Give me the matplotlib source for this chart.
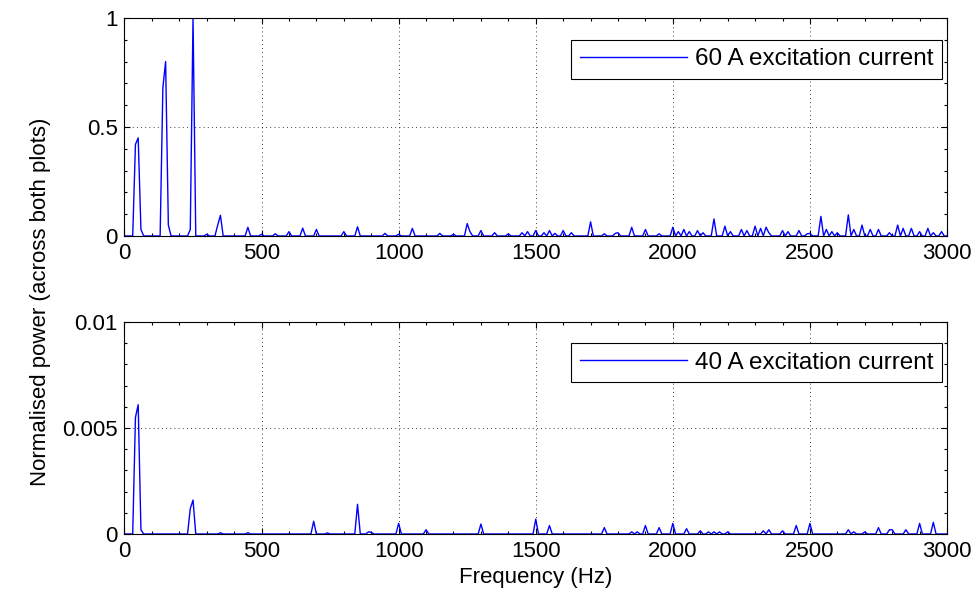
import numpy as np
import matplotlib
matplotlib.use("Agg")
import matplotlib.pyplot as plt
from matplotlib.ticker import MultipleLocator, FuncFormatter

plt.rcParams['font.family'] = ['Liberation Sans', 'DejaVu Sans']

# Frequency grid of the spectra (Hz)
freq_step = 10
freq_max = 3000

# Spectral lines, 60 A excitation (frequency in Hz, normalised power)
f60 = [40, 50, 60, 140, 150, 160, 240, 250, 300, 340, 350, 450, 500, 550, 600,
       650, 700, 800, 850, 950, 1000, 1050, 1150, 1200, 1250, 1260, 1300, 1350,
       1400, 1450, 1470, 1500, 1530, 1550, 1570, 1600, 1630, 1700, 1750, 1790,
       1800, 1850, 1900, 1950, 2000, 2020, 2040, 2060, 2090, 2110, 2150, 2190,
       2210, 2250, 2270, 2300, 2320, 2340, 2350, 2400, 2420, 2460, 2490, 2500,
       2540, 2560, 2580, 2600, 2640, 2660, 2690, 2720, 2750, 2790, 2820, 2840,
       2870, 2900, 2930, 2950, 2980]
p60 = [0.42, 0.45, 0.03, 0.68, 0.80, 0.05, 0.03, 1.00, 0.008, 0.05, 0.095,
       0.04, 0.008, 0.01, 0.02, 0.036, 0.03, 0.02, 0.042, 0.012, 0.008, 0.035,
       0.012, 0.008, 0.057, 0.02, 0.025, 0.015, 0.01, 0.015, 0.02, 0.025, 0.015,
       0.025, 0.012, 0.025, 0.015, 0.065, 0.01, 0.012, 0.015, 0.04, 0.03, 0.01,
       0.04, 0.02, 0.03, 0.02, 0.025, 0.015, 0.078, 0.045, 0.02, 0.03, 0.025,
       0.045, 0.035, 0.04, 0.015, 0.025, 0.02, 0.025, 0.01, 0.012, 0.09, 0.03,
       0.02, 0.015, 0.097, 0.03, 0.05, 0.03, 0.03, 0.015, 0.05, 0.035, 0.035,
       0.02, 0.035, 0.015, 0.02]

# Spectral lines, 40 A excitation (frequency in Hz, normalised power)
f40 = [40, 50, 60, 240, 250, 350, 450, 690, 740, 850, 890, 900, 1000, 1100,
       1300, 1500, 1550, 1750, 1850, 1870, 1900, 1950, 2000, 2050, 2100, 2130,
       2150, 2170, 2200, 2330, 2350, 2400, 2450, 2500, 2640, 2660, 2700, 2750,
       2790, 2800, 2850, 2900, 2950]
p40 = [0.0055, 0.0061, 0.0002, 0.0012, 0.0016, 0.00006, 0.00006, 0.0006,
       0.00005, 0.0014, 0.0001, 0.00008, 0.0005, 0.0002, 0.00047, 0.0007,
       0.0004, 0.0003, 0.0001, 0.0001, 0.0004, 0.0003, 0.0005, 0.00025,
       0.00015, 0.0001, 0.0001, 0.0001, 0.0001, 0.00015, 0.0002, 0.00015,
       0.0004, 0.0005, 0.0002, 0.0001, 0.0001, 0.0003, 0.0002, 0.0002, 0.0002,
       0.0005, 0.00055]

freq = np.arange(0, freq_max + freq_step, freq_step)


def spectrum(fs, ps):
    s = np.zeros_like(freq, dtype=float)
    for f, p in zip(fs, ps):
        s[int(round(f / freq_step))] = p
    return s


power60 = spectrum(f60, p60)
power40 = spectrum(f40, p40)

FS = 16
LEG_FS = 17.5

fig = plt.figure(figsize=(9.71, 6.04), dpi=100)
ax1 = fig.add_axes([0.1282, 0.6093, 0.8471, 0.3609])
ax2 = fig.add_axes([0.1282, 0.1159, 0.8471, 0.3510])

fmt = FuncFormatter(lambda v, pos: '%g' % v)

panels = [
    (ax1, power60, '60 A excitation current', 1.0, 0.5, 0.1),
    (ax2, power40, '40 A excitation current', 0.01, 0.005, 0.001),
]
for ax, pw, label, ytop, ymaj, ymin in panels:
    ax.plot(freq, pw, color='#0000ff', lw=1.0, label=label)
    ax.set_xlim(0, freq_max)
    ax.set_ylim(0, ytop)
    ax.xaxis.set_major_locator(MultipleLocator(500))
    ax.xaxis.set_minor_locator(MultipleLocator(100))
    ax.yaxis.set_major_locator(MultipleLocator(ymaj))
    ax.yaxis.set_minor_locator(MultipleLocator(ymin))
    ax.yaxis.set_major_formatter(fmt)
    ax.xaxis.set_major_formatter(fmt)
    ax.tick_params(which='both', direction='in', top=True, right=True,
                   labelsize=FS, width=0.8, pad=5)
    ax.tick_params(which='major', length=4.5)
    ax.tick_params(which='minor', length=2.5)
    ax.grid(True, which='major', color='black', linestyle=(0, (1, 4)), lw=0.6)
    for sp in ax.spines.values():
        sp.set_linewidth(0.8)
    leg = ax.legend(loc='upper right', bbox_to_anchor=(0.994, 0.9),
                    fontsize=LEG_FS, fancybox=False, framealpha=1,
                    edgecolor='black', handlelength=4.4, borderpad=0.35,
                    handletextpad=0.35, borderaxespad=0)
    leg.get_frame().set_linewidth(0.8)

ax2.set_xlabel('Frequency (Hz)', fontsize=FS, labelpad=4)
fig.text(0.042, 0.5, 'Normalised power (across both plots)', rotation=90,
         fontsize=FS, ha='center', va='center')

fig.savefig('out.png', dpi=100)
